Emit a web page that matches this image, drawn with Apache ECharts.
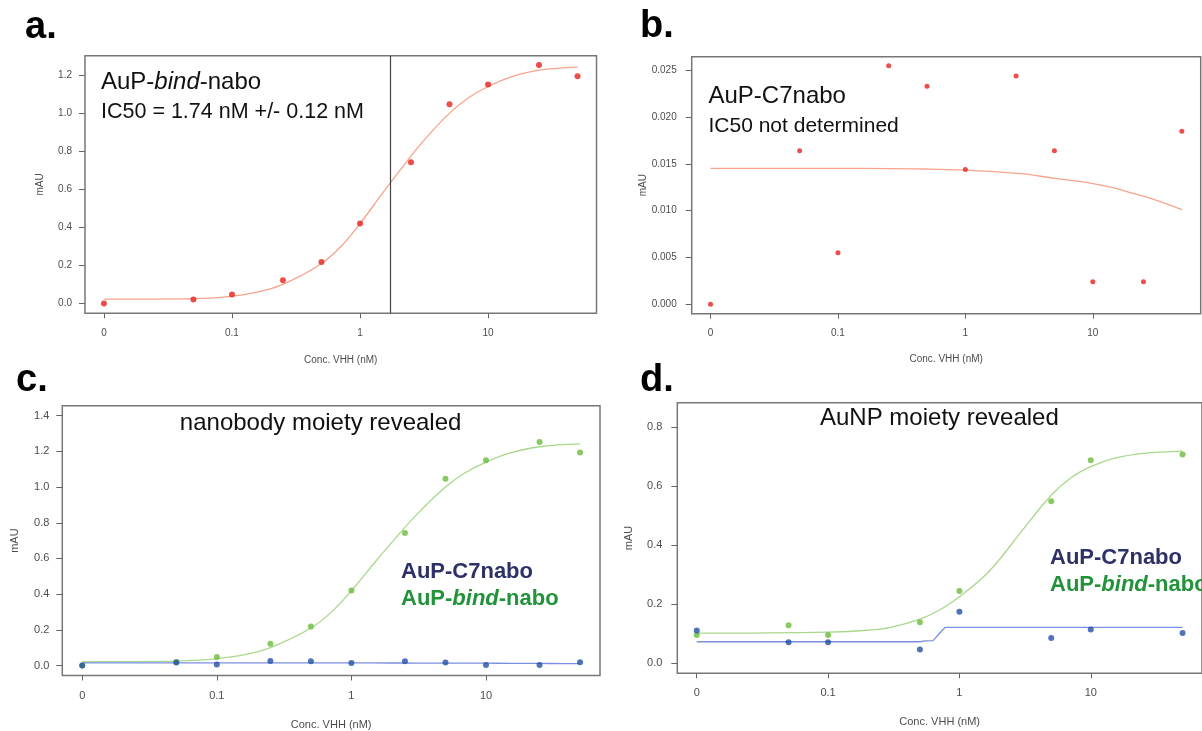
<!DOCTYPE html>
<html>
<head>
<meta charset="utf-8">
<script src="https://cdn.jsdelivr.net/npm/echarts@6/dist/echarts.min.js"></script>
<style>
  html, body { margin: 0; padding: 0; background: #fff; }
  #chart { width: 1202px; height: 731px; }
</style>
</head>
<body>
<div id="chart"></div>
<script>
// Concentrations of VHH (nM). 0 is drawn where 0.01 nM would sit on the log axis.
const conc = [0, 0.05, 0.1, 0.25, 0.5, 1, 2.5, 5, 10, 25, 50];
const bindNabo = [0, 0.02, 0.047, 0.122, 0.218, 0.42, 0.742, 1.047, 1.15, 1.253, 1.194];
const c7Nabo = [0, 0.0164, 0.0055, 0.0255, 0.0233, 0.0144, 0.0244, 0.0164, 0.0024, 0.0024, 0.0185];

// fitted curves
const fitBindX = [0, 0.05, 0.1, 0.2, 0.3, 0.5, 0.7, 1, 1.5, 2, 3, 5, 7, 10, 15, 25, 50];
const fitBindY = [0.022, 0.025, 0.038, 0.077, 0.125, 0.21, 0.295, 0.419, 0.58, 0.69, 0.84, 1.0, 1.08, 1.14, 1.19, 1.226, 1.242];
const fitC7X = [0, 0.1, 0.25, 0.5, 1, 2, 3, 5, 7, 10, 15, 20, 30, 50];
const fitC7Y = [0.01452, 0.01452, 0.0145, 0.01445, 0.01433, 0.0141, 0.0139, 0.01345, 0.0132, 0.0129, 0.0124, 0.0119, 0.0112, 0.0101];
const ic50Bind = 1.74;

// panel d (AuNP moiety)
const concD = [0, 0.05, 0.1, 0.5, 1, 5, 10, 50];
const bindD = [0.096, 0.129, 0.096, 0.139, 0.245, 0.55, 0.689, 0.708];
const c7D = [0.111, 0.071, 0.071, 0.047, 0.175, 0.086, 0.115, 0.103];
const fitBindDX = [0, 0.1, 0.2, 0.3, 0.5, 0.7, 1, 1.5, 2, 3, 5, 7, 10, 15, 25, 50];
const fitBindDY = [0.102, 0.106, 0.112, 0.122, 0.15, 0.18, 0.226, 0.29, 0.35, 0.45, 0.57, 0.628, 0.667, 0.695, 0.712, 0.72];
const fitC7DX = [0, 0.5, 0.55, 0.63, 0.7, 0.78, 1, 50];
const fitC7DY = [0.073, 0.073, 0.076, 0.077, 0.1, 0.122, 0.122, 0.122];

// axis ticks
const xTickPos = [-2, -1, 0, 1];          // log10 of 0.01, 0.1, 1, 10
const xTickLabels = ['0', '0.1', '1', '10'];
const yTicksA = [0, 0.2, 0.4, 0.6, 0.8, 1.0, 1.2];
const yTicksB = [0, 0.005, 0.01, 0.015, 0.02, 0.025];
const yTicksC = [0, 0.2, 0.4, 0.6, 0.8, 1.0, 1.2, 1.4];
const yTicksD = [0, 0.2, 0.4, 0.6, 0.8];

const FONT = '"Liberation Sans", Arial, sans-serif';
const RED = '#e8221c', SALMON = '#f7a48c';
const GREEN = '#6cbb3c', GREEN_LINE = '#a9d88b';
const BLUE = '#2450a6', BLUE_LINE = '#7b8fe0';
const NAVY = '#2e3068', DKGREEN = '#22933a';

function lx(c) { return Math.log10(c === 0 ? 0.01 : c); }
function pairs(xs, ys) { return xs.map((c, i) => [lx(c), ys[i]]); }

const X_MIN = -2.148, X_MAX = 1.847;

const panels = [
    { grid: { left: 85, top: 55.7, width: 511.5, height: 257.6 }, y: [-0.052, 1.302], ticks: yTicksA, dec: 1,
      fs: 10, xMargin: 14.5, xGap: 41.5, yMargin: 13, yGap: 39.5 },
    { grid: { left: 691.7, top: 56.7, width: 509, height: 257 }, y: [-0.00102, 0.02646], ticks: yTicksB, dec: 3,
      fs: 10, xMargin: 14.5, xGap: 41, yMargin: 15, yGap: 39.5 },
    { grid: { left: 62.3, top: 405.7, width: 537.7, height: 270.3 }, y: [-0.056, 1.456], ticks: yTicksC, dec: 1,
      fs: 11, xMargin: 15, xGap: 43.5, yMargin: 13, yGap: 41.5 },
    { grid: { left: 677.3, top: 402.7, width: 536.5, height: 270.6 }, y: [-0.034, 0.884], ticks: yTicksD, dec: 1,
      fs: 11, xMargin: 14.5, xGap: 43, yMargin: 15, yGap: 43 }
];

const axisGrey = '#666', labelGrey = '#4d4d4d';

const grids = panels.map(p => Object.assign({
    show: true, borderColor: '#777', borderWidth: 1.5, backgroundColor: 'transparent'
}, p.grid));

const xAxes = panels.map((p, i) => ({
    gridIndex: i, type: 'value', min: X_MIN, max: X_MAX, position: 'bottom',
    name: 'Conc. VHH (nM)', nameLocation: 'middle', nameGap: p.xGap,
    nameTextStyle: { fontFamily: FONT, fontSize: p.fs, color: labelGrey },
    axisLine: { show: false, onZero: false }, splitLine: { show: false },
    axisTick: { show: true, customValues: xTickPos, length: 5, lineStyle: { color: axisGrey } },
    axisLabel: {
        customValues: xTickPos, margin: p.xMargin, fontFamily: FONT, fontSize: p.fs, color: labelGrey,
        formatter: v => xTickLabels[xTickPos.indexOf(Math.round(v))]
    }
}));

const yAxes = panels.map((p, i) => ({
    gridIndex: i, type: 'value', min: p.y[0], max: p.y[1], position: 'left',
    name: 'mAU', nameLocation: 'middle', nameGap: p.yGap,
    nameTextStyle: { fontFamily: FONT, fontSize: p.fs, color: labelGrey },
    axisLine: { show: false, onZero: false }, splitLine: { show: false },
    axisTick: { show: true, customValues: p.ticks, length: 6, lineStyle: { color: axisGrey } },
    axisLabel: {
        customValues: p.ticks, margin: p.yMargin, fontFamily: FONT, fontSize: p.fs, color: labelGrey,
        formatter: v => v.toFixed(p.dec)
    }
}));

function fitLine(i, xs, ys, color, extra) {
    return Object.assign({
        type: 'line', xAxisIndex: i, yAxisIndex: i, data: pairs(xs, ys),
        showSymbol: false, smooth: 0.4,
        lineStyle: { color: color, width: 1.3 }, z: 2
    }, extra || {});
}
function dots(i, xs, ys, color, size) {
    return {
        type: 'scatter', xAxisIndex: i, yAxisIndex: i, data: pairs(xs, ys),
        symbolSize: size, itemStyle: { color: color }, z: 3
    };
}

const series = [
    // a
    fitLine(0, fitBindX, fitBindY, SALMON, {
        markLine: {
            silent: true, symbol: 'none', label: { show: false },
            lineStyle: { color: '#444', width: 1.2, type: 'solid' },
            data: [{ xAxis: Math.log10(ic50Bind) }]
        }
    }),
    dots(0, conc, bindNabo, RED, 6),
    // b
    fitLine(1, fitC7X, fitC7Y, SALMON),
    dots(1, conc, c7Nabo, RED, 5),
    // c
    fitLine(2, fitBindX, fitBindY, GREEN_LINE),
    fitLine(2, fitC7X, fitC7Y, BLUE_LINE),
    dots(2, conc, bindNabo, GREEN, 6),
    dots(2, conc, c7Nabo, BLUE, 6),
    // d
    fitLine(3, fitBindDX, fitBindDY, GREEN_LINE),
    fitLine(3, fitC7DX, fitC7DY, BLUE_LINE, { smooth: false }),
    dots(3, concD, bindD, GREEN, 6),
    dots(3, concD, c7D, BLUE, 6)
];

function txt(x, y, text, opts) {
    return {
        type: 'text', x: x, y: y, z: 10,
        style: Object.assign({
            text: text, fontFamily: FONT, fontSize: 24, fill: '#111',
            align: 'left', verticalAlign: 'middle'
        }, opts || {})
    };
}
const richName = (size, color, weight) => ({
    n: { fontFamily: FONT, fontSize: size, fill: color, fontWeight: weight },
    i: { fontFamily: FONT, fontSize: size, fill: color, fontWeight: weight, fontStyle: 'italic' }
});

const graphics = [
    txt(25, 28, 'a.', { fontSize: 38, fontWeight: 'bold', fill: '#000' }),
    txt(640, 26.5, 'b.', { fontSize: 38, fontWeight: 'bold', fill: '#000' }),
    txt(16, 381, 'c.', { fontSize: 38, fontWeight: 'bold', fill: '#000' }),
    txt(640, 381, 'd.', { fontSize: 38, fontWeight: 'bold', fill: '#000' }),

    txt(101, 82, '{n|AuP-}{i|bind}{n|-nabo}', { rich: richName(24, '#111', 'normal') }),
    txt(101, 112, 'IC50 = 1.74 nM +/- 0.12 nM', { fontSize: 21.5 }),

    txt(708.5, 96, 'AuP-C7nabo', { fontSize: 24 }),
    txt(708.5, 126, 'IC50 not determined', { fontSize: 21 }),

    txt(320.6, 423, 'nanobody moiety revealed', { align: 'center' }),
    txt(401, 572, 'AuP-C7nabo', { fontSize: 22, fontWeight: 'bold', fill: NAVY }),
    txt(401, 599, '{n|AuP-}{i|bind}{n|-nabo}', { rich: richName(22, DKGREEN, 'bold') }),

    txt(939.4, 418.5, 'AuNP moiety revealed', { align: 'center' }),
    txt(1050, 558.3, 'AuP-C7nabo', { fontSize: 22, fontWeight: 'bold', fill: NAVY }),
    txt(1050, 585, '{n|AuP-}{i|bind}{n|-nabo}', { rich: richName(22, DKGREEN, 'bold') })
];

const chart = echarts.init(document.getElementById('chart'));
chart.setOption({
    animation: false,
    backgroundColor: '#fff',
    grid: grids,
    xAxis: xAxes,
    yAxis: yAxes,
    series: series,
    graphic: graphics
});
</script>
</body>
</html>
